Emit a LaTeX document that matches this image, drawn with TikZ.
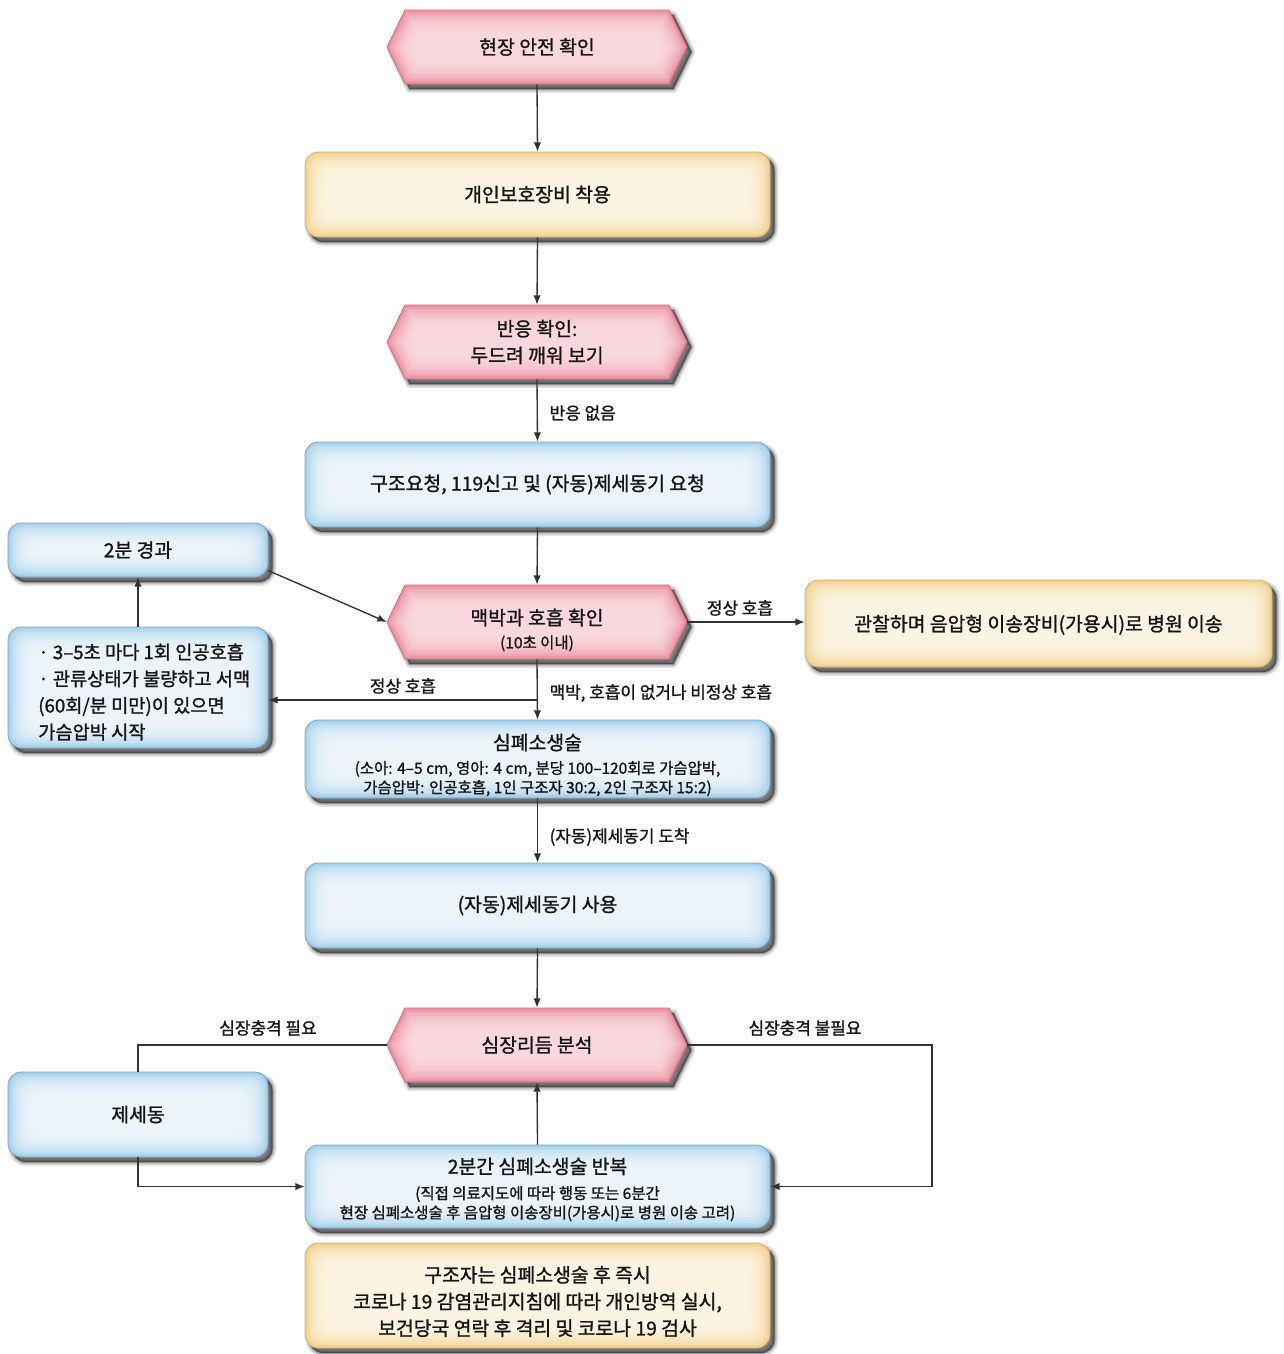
\documentclass[tikz,border=0pt]{standalone}
\usepackage{fontspec}
\setmainfont{Noto Sans CJK KR}[FakeBold=1.2]
\usetikzlibrary{arrows.meta,fit}
\pgfdeclarelayer{canvas}
\pgfdeclarelayer{background}
\pgfsetlayers{canvas,background,main}

\definecolor{blueout}{RGB}{166,210,236}
\definecolor{bluein}{RGB}{244,250,253}
\definecolor{blueline}{RGB}{128,160,182}
\definecolor{yelout}{RGB}{243,210,145}
\definecolor{yelin}{RGB}{255,250,236}
\definecolor{yelline}{RGB}{205,175,115}
\definecolor{pinkout}{RGB}{236,146,161}
\definecolor{pinkin}{RGB}{252,224,230}
\definecolor{pinkline}{RGB}{210,108,124}
\definecolor{ink}{RGB}{20,20,20}
\definecolor{wire}{RGB}{50,50,50}

\newcommand\mainsize{\fontsize{14.5}{20}\selectfont}
\newcommand\smallsize{\fontsize{11.6}{14.5}\selectfont}
\newcommand\labelsize{\fontsize{12.7}{15}\selectfont}

\tikzset{
  paneltext/.style={inner sep=0pt, text=ink, font=\mainsize, align=center},
  arr/.style={draw=wire, line width=1pt, -{Latex[length=7pt,width=5.5pt]}},
  wireline/.style={draw=wire, line width=1pt},
  lbl/.style={text=ink, font=\labelsize, inner sep=1pt},
}

% soft shadow below and right of a path: [path options]{path}
\newcommand\dropshadow[2][]{%
  \begin{scope}[shift={(4.5,5)}]
    \draw[black, line width=6pt, opacity=.10, line join=round, #1] #2;
    \draw[black, line width=3.5pt, opacity=.14, line join=round, #1] #2;
    \draw[black, line width=1.5pt, opacity=.20, line join=round, #1] #2;
    \fill[black, opacity=.50, #1] #2;
  \end{scope}}

% rounded panel with a soft inner glow
% [text options]{name}{x0}{y0}{x1}{y1}{colour set}{text}
\newcommand\roundpanel[8][]{%
  \begin{pgfonlayer}{background}
    \dropshadow[rounded corners=10pt]{(#3,#4) rectangle (#5,#6)}
    \path[fill=#7out, draw=#7line, line width=.6pt, rounded corners=10pt]
      (#3,#4) rectangle (#5,#6);
    \foreach \k in {1,...,9}
      \fill[#7in, fill opacity=.24, rounded corners=9pt]
        ({#3+2.6*\k},{#4+2.6*\k}) rectangle ({#5-2.6*\k},{#6-2.6*\k});
  \end{pgfonlayer}
  \node[inner sep=0pt, fit={(#3,#4) (#5,#6)}] (#2) {};
  \node[paneltext, #1] (#2-text) at (#2.center) {#8};
}

% hexagon outline: centre x, centre y, inset
\newcommand\hexoutline[3]{%
  ({#1-150+1.1*(#3)+18*(37-(#3))/37},{#2-37+(#3)}) --
  ({#1+150-1.1*(#3)-18*(37-(#3))/37},{#2-37+(#3)}) --
  ({#1+150-1.1*(#3)},{#2}) --
  ({#1+150-1.1*(#3)-18*(37-(#3))/37},{#2+37-(#3)}) --
  ({#1-150+1.1*(#3)+18*(37-(#3))/37},{#2+37-(#3)}) --
  ({#1-150+1.1*(#3)},{#2}) -- cycle}

% pointed decision panel: [text options]{name}{cx}{cy}{text}
\newcommand\hexpanel[5][]{%
  \begin{pgfonlayer}{background}
    \dropshadow{\hexoutline{#3}{#4}{0}}
    \path[fill=pinkout, draw=pinkline, line width=.6pt] \hexoutline{#3}{#4}{0};
    \foreach \k in {1,...,9}
      \fill[pinkin, fill opacity=.24] \hexoutline{#3}{#4}{2.6*\k};
  \end{pgfonlayer}
  \node[inner sep=0pt, fit={({#3-150},{#4-37}) ({#3+150},{#4+37})}] (#2) {};
  \node[paneltext, #1] (#2-text) at (#2.center) {#5};
}

\begin{document}
\begin{tikzpicture}[x=0.75pt,y=-0.75pt]
\useasboundingbox (0,0) rectangle (1283,1354);
\begin{pgfonlayer}{canvas}
  \fill[white] (0,0) rectangle (1283,1354);
\end{pgfonlayer}

% main column
\hexpanel{safe}{537}{47}{현장 안전 확인}
\roundpanel{ppe}{305}{152}{770}{237}{yel}{개인보호장비 착용}
\hexpanel{resp}{537}{342}{반응 확인:\\두드려 깨워 보기}
\roundpanel{call}{305}{442}{770}{527}{blue}{구조요청, 119신고 및 (자동)제세동기 요청}
\hexpanel[font=\smallsize, yshift=-6pt]{pulse}{537}{622}{{\mainsize 맥박과 호흡 확인}\\[3pt](10초 이내)}
\roundpanel[font=\smallsize, yshift=-4.5pt]{cpr}{305}{720}{770}{798}{blue}{{\mainsize 심폐소생술}\\[3.5pt](소아: 4–5 cm, 영아: 4 cm, 분당 100–120회로 가슴압박,\\가슴압박: 인공호흡, 1인 구조자 30:2, 2인 구조자 15:2)}
\roundpanel{aed}{305}{863}{770}{948}{blue}{(자동)제세동기 사용}
\hexpanel{rhythm}{537}{1045}{심장리듬 분석}
\roundpanel[font=\smallsize, yshift=-2.25pt]{rep}{305}{1145}{770}{1228}{blue}{{\mainsize 2분간 심폐소생술 반복}\\[4.5pt](직접 의료지도에 따라 행동 또는 6분간\\현장 심폐소생술 후 음압형 이송장비(가용시)로 병원 이송 고려)}
\roundpanel[yshift=-4.5pt]{covid}{305}{1243}{770}{1348}{yel}{구조자는 심폐소생술 후 즉시\\코로나 19 감염관리지침에 따라 개인방역 실시,\\보건당국 연락 후 격리 및 코로나 19 검사}

% side panels
\roundpanel[yshift=-1pt]{watch}{805}{580}{1272}{667}{yel}{관찰하며 음압형 이송장비(가용시)로 병원 이송}
\roundpanel{twomin}{8}{523}{268}{577}{blue}{2분 경과}
\roundpanel{vent}{8}{627}{268}{748}{blue}{}
\node[inner sep=0pt, text=ink, font=\fontsize{14}{20}\selectfont, align=left, anchor=west]
  (venttext) at (38,692)
  {· 3–5초 마다 1회 인공호흡\\· 관류상태가 불량하고 서맥\\(60회/분 미만)이 있으면\\가슴압박 시작};
\roundpanel{defib}{8}{1072}{268}{1157}{blue}{제세동}

% connectors
\draw[arr] (safe.south) -- (ppe.north);
\draw[arr] (ppe.south) -- (resp.north);
\draw[arr] (resp.south) -- (call.north);
\draw[arr] (call.south) -- (pulse.north);
\draw[arr] (pulse.south) -- (cpr.north);
\draw[arr] (cpr.south) -- (aed.north);
\draw[arr] (aed.south) -- (rhythm.north);
\draw[arr] (pulse.east) -- (watch.west |- pulse.east);
\draw[arr] ([yshift=5pt]twomin.south east) -- (pulse.west);
\draw[arr] (vent.north) -- (twomin.south);
\coordinate (fork) at (537,700);
\draw[arr] (fork) -- (vent.east |- fork);
\draw[wireline] (rhythm.west) -| (defib.north);
\draw[arr] (defib.south) |- (rep.west);
\coordinate (bend) at (932,1045);
\draw[arr] (rhythm.east) -- (bend) |- (rep.east);
\draw[arr] (rep.north) -- (rhythm.south);

% connector labels
\node[lbl, anchor=west] (lnone) at (548,413) {반응 없음};
\node[lbl] (lnormr) at (740,608) {정상 호흡};
\node[lbl] (lnorml) at (403,686) {정상 호흡};
\node[lbl, anchor=west] (labn) at (548,693) {맥박, 호흡이 없거나 비정상 호흡};
\node[lbl, anchor=west] (larr) at (548,837) {(자동)제세동기 도착};
\node[lbl] (lshock) at (268,1028) {심장충격 필요};
\node[lbl] (lnoshock) at (805,1028) {심장충격 불필요};
\end{tikzpicture}
\end{document}
